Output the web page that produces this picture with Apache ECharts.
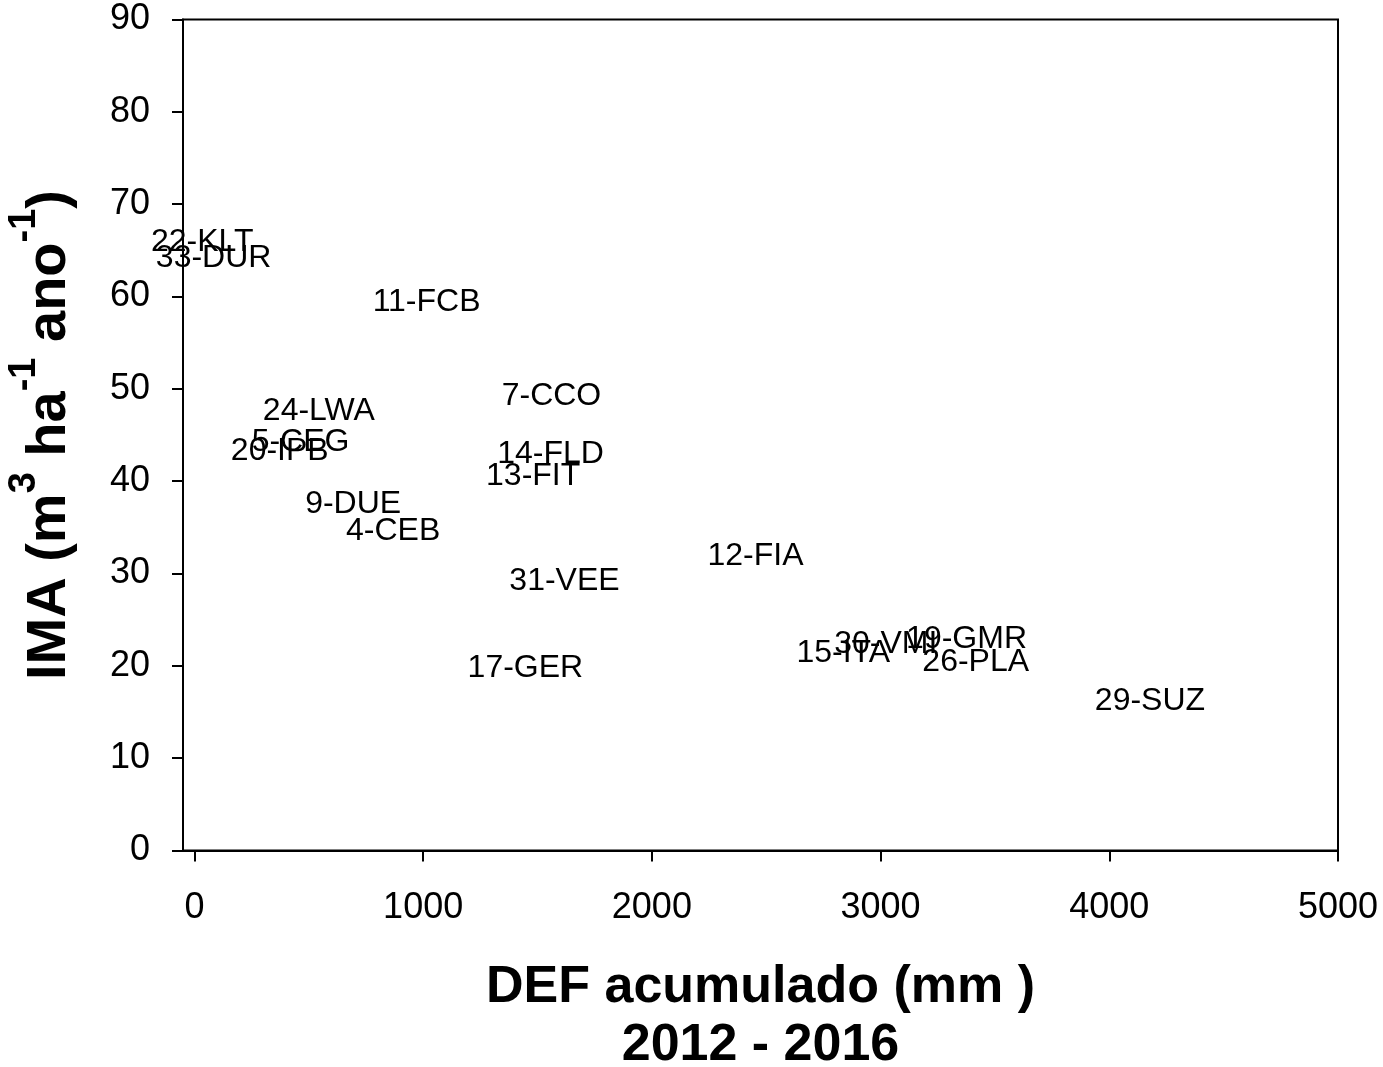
<!DOCTYPE html>
<html>
<head>
<meta charset="utf-8">
<script src="https://cdn.jsdelivr.net/npm/echarts@6/dist/echarts.min.js"></script>
<style>
html,body{margin:0;padding:0;background:#fff;}
#chart{width:1383px;height:1067px;}
</style>
</head>
<body>
<div id="chart"></div>
<script>
// Site labels
var siteNames = ['22-KLT','33-DUR','11-FCB','24-LWA','5-CEG','20-IPB','9-DUE','4-CEB','7-CCO','14-FLD','13-FIT','12-FIA','31-VEE','17-GER','15-ITA','30-VMI','19-GMR','26-PLA','29-SUZ'];
// DEF acumulado (mm) 2012-2016
var defValues = [34, 84, 1015, 544, 464, 373, 694, 869, 1561, 1557, 1481, 2453, 1618, 1447, 2837, 3023, 3376, 3416, 4178];
// IMA (m3 ha-1 ano-1)
var imaValues = [65.9, 64.2, 59.4, 47.6, 44.2, 43.3, 37.5, 34.6, 49.2, 42.9, 40.5, 31.9, 29.2, 19.8, 21.4, 22.4, 22.9, 20.4, 16.2];
// Tick values
var xTicks = [0, 1000, 2000, 3000, 4000, 5000];
var yTicks = [0, 10, 20, 30, 40, 50, 60, 70, 80, 90];

var points = siteNames.map(function (n, i) { return { name: n, value: [defValues[i], imaValues[i]] }; });

var FONT = '"Liberation Sans", Arial, Helvetica, sans-serif';
var chart = echarts.init(document.getElementById('chart'), null, { renderer: 'canvas' });
chart.setOption({
  backgroundColor: '#ffffff',
  animation: false,
  grid: {
    left: 183, right: 45, top: 19.5, bottom: 216.5,
    outerBoundsMode: 'none', containLabel: false,
    show: true, borderColor: '#000', borderWidth: 2, backgroundColor: 'transparent'
  },
  xAxis: {
    type: 'value', min: -50, max: 5000,
    name: 'DEF acumulado (mm )\n2012 - 2016',
    nameLocation: 'middle', nameGap: 108,
    nameTextStyle: { fontFamily: FONT, fontWeight: 'bold', fontSize: 52, color: '#000', lineHeight: 58 },
    axisLine: { show: true, onZero: false, lineStyle: { color: '#000', width: 2 } },
    axisTick: { show: true, inside: false, length: 11, lineStyle: { color: '#000', width: 2 }, customValues: xTicks },
    axisLabel: { show: true, margin: 40, fontFamily: FONT, fontSize: 36, color: '#000', customValues: xTicks,
      formatter: function (v) { return String(v); } },
    splitLine: { show: false }
  },
  yAxis: {
    type: 'value', min: 0, max: 90, interval: 10,
    name: '{a|IMA (m}{s|3}{a| ha}{s|-1}{a| ano}{s|-1}{a|)}',
    nameLocation: 'middle', nameRotate: 90, nameGap: 89,
    nameTextStyle: {
      rich: {
        a: { fontFamily: FONT, fontWeight: 'bold', fontSize: 56, color: '#000', lineHeight: 88 },
        s: { fontFamily: FONT, fontWeight: 'bold', fontSize: 38, color: '#000', lineHeight: 38, verticalAlign: 'top' }
      }
    },
    axisLine: { show: true, onZero: false, lineStyle: { color: '#000', width: 2 } },
    axisTick: { show: true, inside: false, length: 11, lineStyle: { color: '#000', width: 2 }, customValues: yTicks },
    axisLabel: { show: true, margin: 33, fontFamily: FONT, fontSize: 36, color: '#000', customValues: yTicks,
      padding: [4, 0, 0, 0],
      formatter: function (v) { return String(v); } },
    splitLine: { show: false }
  },
  series: [{
    type: 'scatter',
    data: points,
    symbol: 'circle',
    symbolSize: 0,
    itemStyle: { color: '#000', opacity: 1 },
    label: {
      show: true, position: 'inside', opacity: 1,
      formatter: function (p) { return p.name; },
      fontFamily: FONT, fontSize: 32, color: '#000', textBorderWidth: 0
    },
    emphasis: { disabled: true }
  }]
});
</script>
</body>
</html>
